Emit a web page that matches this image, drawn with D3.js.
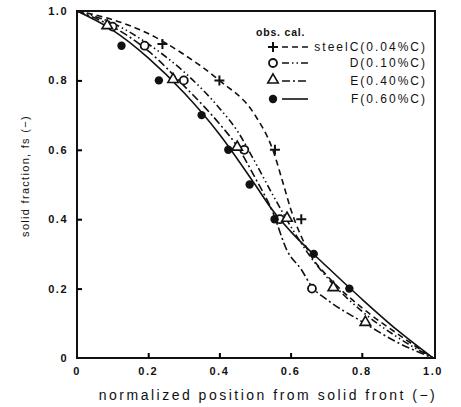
<!DOCTYPE html>
<html>
<head>
<meta charset="UTF-8">
<title>Solid fraction</title>
<script src="https://d3js.org/d3.v7.min.js"></script>
<style>
  body { margin: 0; background: #fff; }
  text { font-family: "Liberation Sans", Arial, sans-serif; fill: #111; }
</style>
</head>
<body>
<div id="chart"></div>
<script>
// ticks
var xTicks = [0, 0.2, 0.4, 0.6, 0.8, 1.0];
var xTickLabels = ["0", "0.2", "0.4", "0.6", "0.8", "1.0"];
var yTicks = [0, 0.2, 0.4, 0.6, 0.8, 1.0];
var yTickLabels = ["0", "0.2", "0.4", "0.6", "0.8", "1.0"];

// observed points
var obsC = [[0.24, 0.905], [0.40, 0.80], [0.556, 0.60], [0.63, 0.40]];
var obsD = [[0.10, 0.955], [0.19, 0.90], [0.30, 0.80], [0.47, 0.60], [0.57, 0.40], [0.66, 0.20]];
var obsE = [[0.085, 0.955], [0.27, 0.80], [0.45, 0.605], [0.59, 0.40], [0.72, 0.20], [0.81, 0.10]];
var obsF = [[0.125, 0.90], [0.23, 0.80], [0.35, 0.70], [0.425, 0.60], [0.485, 0.50], [0.555, 0.40], [0.665, 0.30], [0.765, 0.20]];

// calculated curves
var calC = [[0, 1], [0.1, 0.975], [0.2, 0.935], [0.3, 0.875], [0.4, 0.80], [0.5, 0.70], [0.55, 0.60], [0.58, 0.50], [0.6, 0.43], [0.63, 0.35], [0.66, 0.29], [0.7, 0.24], [0.8, 0.145], [0.9, 0.07], [1, 0]];
var calD = [[0, 1], [0.1, 0.965], [0.2, 0.905], [0.3, 0.825], [0.4, 0.72], [0.45, 0.655], [0.5, 0.565], [0.55, 0.47], [0.6, 0.38], [0.65, 0.30], [0.7, 0.235], [0.8, 0.135], [0.9, 0.06], [1, 0]];
var calE = [[0, 1], [0.1, 0.955], [0.2, 0.885], [0.3, 0.785], [0.4, 0.675], [0.45, 0.61], [0.5, 0.52], [0.55, 0.42], [0.59, 0.31], [0.63, 0.255], [0.66, 0.205], [0.7, 0.17], [0.8, 0.105], [0.9, 0.045], [1, 0]];
var calF = [[0, 1], [0.1, 0.945], [0.2, 0.865], [0.3, 0.765], [0.4, 0.645], [0.5, 0.50], [0.55, 0.425], [0.6, 0.365], [0.7, 0.265], [0.8, 0.17], [0.9, 0.08], [1, 0]];

var legendLabels = ["steelC(0.04%C)", "D(0.10%C)", "E(0.40%C)", "F(0.60%C)"];

var width = 461, height = 407;
var margin = {left: 77, right: 28, top: 11, bottom: 49};

var svg = d3.select("#chart").append("svg")
    .attr("width", width)
    .attr("height", height);

var x = d3.scaleLinear().domain([0, 1]).range([margin.left, 433]);
var y = d3.scaleLinear().domain([0, 1]).range([358, margin.top]);

// frame
svg.append("rect")
    .attr("x", x(0)).attr("y", y(1))
    .attr("width", 435 - x(0)).attr("height", y(0) - y(1))
    .attr("fill", "none").attr("stroke", "#111").attr("stroke-width", 2);

// inward ticks
var xAxis = d3.axisBottom(x).tickValues(xTicks.slice(1, 5)).tickSize(-5).tickFormat("");
svg.append("g").attr("transform", "translate(0," + y(0) + ")").call(xAxis)
    .call(function(g) { g.select(".domain").remove(); g.selectAll("line").attr("stroke-width", 2); });
var yAxis = d3.axisLeft(y).tickValues(yTicks.slice(1, 5)).tickSize(-5).tickFormat("");
svg.append("g").attr("transform", "translate(" + x(0) + ",0)").call(yAxis)
    .call(function(g) { g.select(".domain").remove(); g.selectAll("line").attr("stroke-width", 2); });

// tick labels
svg.selectAll(".xl").data(xTicks).enter().append("text")
    .attr("x", function(d) { return x(d); })
    .attr("y", 375)
    .attr("text-anchor", "middle")
    .attr("font-size", 11).attr("font-weight", "bold").attr("letter-spacing", 1.5)
    .text(function(d, i) { return xTickLabels[i]; });
svg.selectAll(".yl").data(yTicks).enter().append("text")
    .attr("x", 68)
    .attr("y", function(d) { return y(d) + 4; })
    .attr("text-anchor", "end")
    .attr("font-size", 11).attr("font-weight", "bold").attr("letter-spacing", 1.5)
    .text(function(d, i) { return yTickLabels[i]; });

// axis titles
svg.append("text")
    .attr("x", 268).attr("y", 400)
    .attr("text-anchor", "middle")
    .attr("font-size", 14).attr("letter-spacing", 2.5)
    .text("normalized position from solid front (\u2212)");
svg.append("text")
    .attr("transform", "translate(29,176) rotate(-90)")
    .attr("text-anchor", "middle")
    .attr("font-size", 11).attr("letter-spacing", 1.3)
    .text("solid fraction, fs (\u2212)");

// curves
var line = d3.line()
    .x(function(d) { return x(d[0]); })
    .y(function(d) { return y(d[1]); })
    .curve(d3.curveMonotoneX);

var styles = [
  {cal: calC, dash: "6,4"},
  {cal: calD, dash: "7,3,1.5,3,1.5,3"},
  {cal: calE, dash: "8,3,2,3"},
  {cal: calF, dash: null}
];
styles.forEach(function(s) {
  svg.append("path")
      .attr("d", line(s.cal))
      .attr("fill", "none")
      .attr("stroke", "#111")
      .attr("stroke-width", 1.6)
      .attr("stroke-dasharray", s.dash);
});

// markers
function plus(g, px, py) {
  g.append("path").attr("d", "M" + (px - 5) + "," + py + "h10M" + px + "," + (py - 5) + "v10")
      .attr("stroke", "#111").attr("stroke-width", 2).attr("fill", "none");
}
function openCircle(g, px, py) {
  g.append("circle").attr("cx", px).attr("cy", py).attr("r", 4)
      .attr("fill", "#fff").attr("stroke", "#111").attr("stroke-width", 1.8);
}
function triangle(g, px, py) {
  g.append("path").attr("d", d3.symbol().type(d3.symbolTriangle).size(48)())
      .attr("transform", "translate(" + px + "," + (py - 1) + ")")
      .attr("fill", "#fff").attr("stroke", "#111").attr("stroke-width", 1.6);
}
function dot(g, px, py) {
  g.append("circle").attr("cx", px).attr("cy", py).attr("r", 4.2).attr("fill", "#111");
}

var mg = svg.append("g");
obsC.forEach(function(d) { plus(mg, x(d[0]), y(d[1])); });
obsD.forEach(function(d) { openCircle(mg, x(d[0]), y(d[1])); });
obsE.forEach(function(d) { triangle(mg, x(d[0]), y(d[1])); });
obsF.forEach(function(d) { dot(mg, x(d[0]), y(d[1])); });

// legend
var lg = svg.append("g");
lg.append("text").attr("x", 256).attr("y", 36)
    .attr("font-size", 10.5).attr("font-weight", "bold").attr("letter-spacing", 0.8)
    .text("obs. cal.");
var markerFns = [plus, openCircle, triangle, dot];
var rowY = [47, 63, 81, 99];
legendLabels.forEach(function(lab, i) {
  markerFns[i](lg, 273, rowY[i]);
  lg.append("line").attr("x1", 282).attr("x2", 308).attr("y1", rowY[i]).attr("y2", rowY[i])
      .attr("stroke", "#111").attr("stroke-width", 1.6)
      .attr("stroke-dasharray", styles[i].dash);
  lg.append("text").attr("x", 427).attr("y", rowY[i] + 4)
      .attr("text-anchor", "end")
      .attr("font-size", 12).attr("letter-spacing", 2)
      .text(lab);
});
</script>
</body>
</html>
